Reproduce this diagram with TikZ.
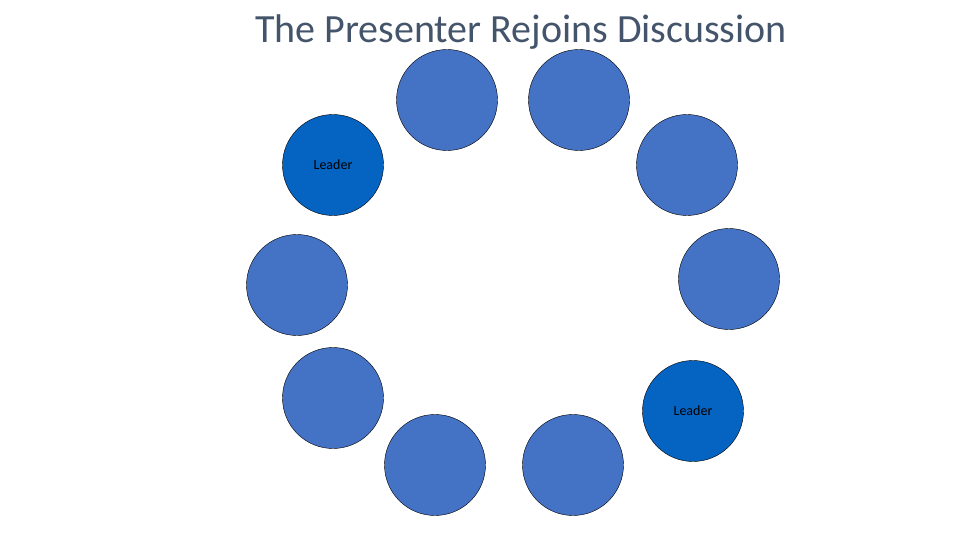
\documentclass[tikz,border=0pt]{standalone}
\usepackage{fontspec}
\setmainfont{Carlito}
\usetikzlibrary{positioning}
\definecolor{seatblue}{HTML}{4472C4}
\definecolor{leadblue}{HTML}{0563C1}
\definecolor{titlegray}{HTML}{44546A}
\tikzset{seat/.style={circle,draw=black,fill=seatblue,minimum size=101pt,inner sep=0pt,font=\fontsize{14}{16}\selectfont},
         leader/.style={seat,fill=leadblue}
}

\begin{document}
\begin{tikzpicture}[x=1pt,y=-1pt]
\useasboundingbox (0,0) rectangle (960,540);

\node[text=titlegray,font=\fontsize{40}{46}\selectfont] (title) at (521,32) {The Presenter Rejoins Discussion};
\node[seat] (s1) at (447,100) {};
\node[seat] (s2) at (579,100) {};
\node[seat] (s3) at (687,165) {};
\node[leader] (lead1) at (333,165) {Leader};
\node[seat] (s4) at (297,285) {};
\node[seat] (s5) at (729,279) {};
\node[seat] (s6) at (333,398) {};
\node[leader] (lead2) at (693,411) {Leader};
\node[seat] (s7) at (435,465) {};
\node[seat] (s8) at (573,465) {};

\end{tikzpicture}
\end{document}
